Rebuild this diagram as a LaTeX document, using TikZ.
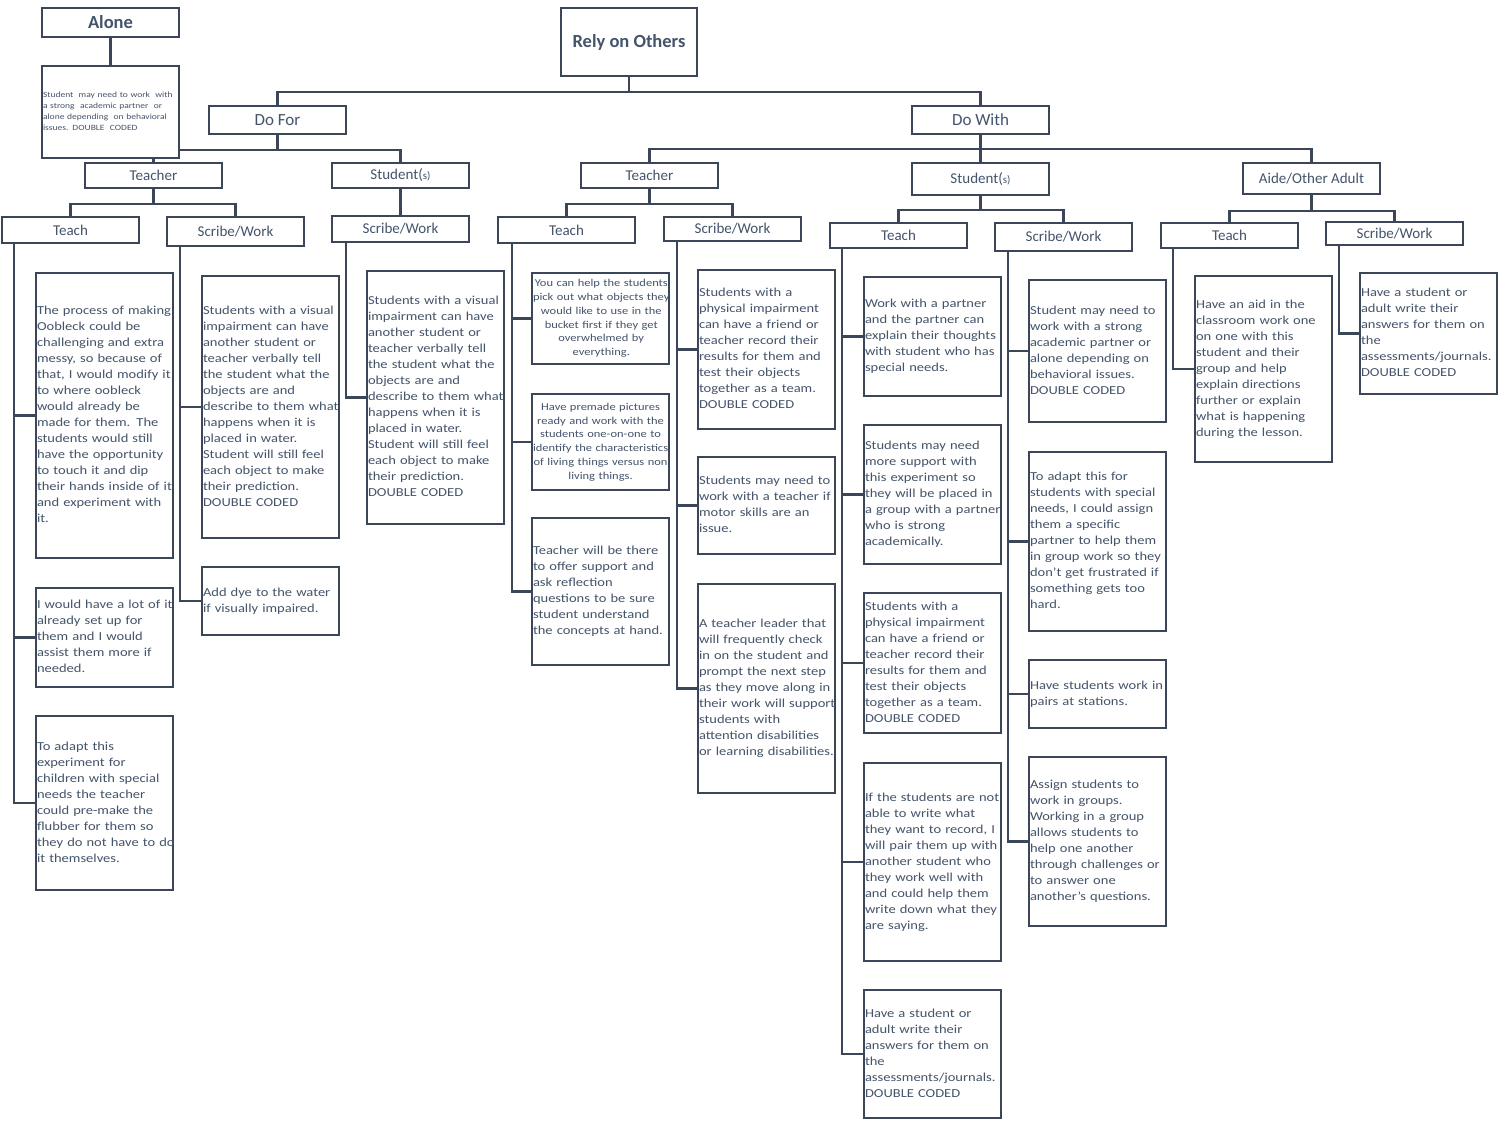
\documentclass[tikz,border=0pt]{standalone}
\usepackage{fontspec}
\setmainfont{Carlito}
\newfontfamily\bodyfont{Carlito}[FakeStretch=1.19]
\usetikzlibrary{backgrounds,calc}
\definecolor{lc}{HTML}{3B4659}
\definecolor{tc}{HTML}{44546A}
\newcommand{\mytl}[1]{\begin{tabular}{@{}l@{}}#1\end{tabular}}
\newcommand{\mytc}[1]{\begin{tabular}{@{}c@{}}#1\end{tabular}}
\newcommand{\sm}[1]{{\fontsize{11}{13}\selectfont #1}}
\tikzset{
  bx/.style={draw=lc, line width=2pt, fill=white, anchor=north west, minimum width=137pt, inner sep=0pt, text=tc},
  body/.style={bx, text width=135pt, align=left, font=\bodyfont\fontsize{12.2}{16}\selectfont},
  smallbody/.style={bx, text width=135pt, align=center, font=\bodyfont\fontsize{10.5}{13.8}\selectfont},
  lab/.style={bx, font=\fontsize{15}{18}\selectfont},
  big/.style={bx, font=\fontsize{17}{20}\selectfont},
  head/.style={bx, font=\bfseries\fontsize{18.5}{22}\selectfont},
  conn/.style={draw=lc, line width=2.5pt},
}
\begin{document}
\begin{tikzpicture}[x=1pt,y=-1pt]
\useasboundingbox (0,0) rectangle (1509,1125);
% top level
\node[head, minimum height=29pt] (alone) at (41,7) {Alone};
\node[bx, minimum height=92pt, text width=135pt, align=left, font=\bodyfont\fontsize{8}{11}\selectfont] (alonebox) at (41,65)
 {\mytl{\makebox[132pt][s]{Student \ may need to work \ with}\\ \makebox[123pt][s]{a strong \ academic partner \ or}\\ \makebox[132pt][s]{alone depending \ on behavioral}\\ issues. DOUBLE \ CODED}};
\node[head, minimum width=136pt, minimum height=68pt] (rely) at (560,7) {Rely on Others};
\node[big, minimum height=28pt] (dofor) at (208,105) {Do For};
\node[big, minimum height=28pt] (dowith) at (911,105) {Do With};
% Do For
\node[lab, minimum height=25pt] (dft) at (84,162) {Teacher};
\node[lab, minimum height=25pt] (dfs) at (331,162) {Student(\sm{s)}};
\node[lab, minimum height=26pt] (dftt) at (1,216) {Teach};
\node[lab, minimum height=29pt] (dfts) at (166,216) {Scribe/Work};
\node[lab, minimum height=26pt] (dfss) at (331,215) {Scribe/Work};
\node[body, minimum height=285pt] (a1) at (35,272) {\mytl{The process of making\\Oobleck could be\\challenging and extra\\messy, so because of\\that, I would modify it\\to where oobleck\\would already be\\made for them. The\\students would still\\have the opportunity\\to touch it and dip\\their hands inside of it\\and experiment with\\it.}};
\node[body, minimum height=99pt] (a2) at (35,587) {\mytl{I would have a lot of it\\already set up for\\them and I would\\assist them more if\\needed.}};
\node[body, minimum height=174pt] (a3) at (35,715) {\mytl{To adapt this\\experiment for\\children with special\\needs the teacher\\could pre-make the\\flubber for them so\\they do not have to do\\it themselves.}};
\node[body, minimum height=262pt] (b1) at (201,275) {\mytl{Students with a visual\\impairment can have\\another student or\\teacher verbally tell\\the student what the\\objects are and\\describe to them what\\happens when it is\\placed in water.\\Student will still feel\\each object to make\\their prediction.\\DOUBLE CODED}};
\node[body, minimum height=68pt] (b2) at (201,566) {\mytl{Add dye to the water\\if visually impaired.}};
\node[body, minimum height=253pt] (c1) at (366,270) {\mytl{Students with a visual\\impairment can have\\another student or\\teacher verbally tell\\the student what the\\objects are and\\describe to them what\\happens when it is\\placed in water.\\Student will still feel\\each object to make\\their prediction.\\DOUBLE CODED}};
% Do With
\node[lab, minimum height=25pt] (dwt) at (580,162) {Teacher};
\node[lab, minimum height=32pt] (dws) at (911,162) {Student(\sm{s)}};
\node[lab, minimum height=31pt] (dwa) at (1242,162) {Aide/Other Adult};
\node[lab, minimum height=26pt] (dwtt) at (497,216) {Teach};
\node[lab, minimum height=24pt] (dwts) at (663,216) {Scribe/Work};
\node[smallbody, minimum height=91pt] (d1) at (531,272) {\mytc{You can help the students\\pick out what objects they\\would like to use in the\\bucket first if they get\\overwhelmed by\\everything.}};
\node[smallbody, minimum height=96pt] (d2) at (531,393) {\mytc{Have premade pictures\\ready and work with the\\students one-on-one to\\identify the characteristics\\of living things versus non\\living things.}};
\node[body, minimum height=147pt] (d3) at (531,517) {\mytl{Teacher will be there\\to offer support and\\ask reflection\\questions to be sure\\student understand\\the concepts at hand.}};
\node[body, minimum height=159pt] (e1) at (697,269) {\mytl{Students with a\\physical impairment\\can have a friend or\\teacher record their\\results for them and\\test their objects\\together as a team.\\DOUBLE CODED}};
\node[body, minimum height=97pt] (e2) at (697,456) {\mytl{Students may need to\\work with a teacher if\\motor skills are an\\issue.}};
\node[body, minimum height=209pt] (e3) at (697,583) {\mytl{A teacher leader that\\will frequently check\\in on the student and\\prompt the next step\\as they move along in\\their work will support\\students with\\attention disabilities\\or learning disabilities.}};
\node[lab, minimum height=25pt] (dwst) at (829,222) {Teach};
\node[lab, minimum height=28pt] (dwss) at (994,222) {Scribe/Work};
\node[body, minimum height=119pt] (f1) at (863,276) {\mytl{Work with a partner\\and the partner can\\explain their thoughts\\with student who has\\special needs.}};
\node[body, minimum height=139pt] (f2) at (863,424) {\mytl{Students may need\\more support with\\this experiment so\\they will be placed in\\a group with a partner\\who is strong\\academically.}};
\node[body, minimum height=140pt] (f3) at (863,592) {\mytl{Students with a\\physical impairment\\can have a friend or\\teacher record their\\results for them and\\test their objects\\together as a team.\\DOUBLE CODED}};
\node[body, minimum height=198pt] (f4) at (863,762) {\mytl{If the students are not\\able to write what\\they want to record, I\\will pair them up with\\another student who\\they work well with\\and could help them\\write down what they\\are saying.}};
\node[body, minimum height=128pt] (f5) at (863,989) {\mytl{Have a student or\\adult write their\\answers for them on\\the\\assessments/journals.\\DOUBLE CODED}};
\node[body, minimum height=142pt] (g1) at (1028,279) {\mytl{Student may need to\\work with a strong\\academic partner or\\alone depending on\\behavioral issues.\\DOUBLE CODED}};
\node[body, minimum height=179pt] (g2) at (1028,451) {\mytl{To adapt this for\\students with special\\needs, I could assign\\them a specific\\partner to help them\\in group work so they\\don’t get frustrated if\\something gets too\\hard.}};
\node[body, minimum height=68pt] (g3) at (1028,659) {\mytl{Have students work in\\pairs at stations.}};
\node[body, minimum height=169pt] (g4) at (1028,756) {\mytl{Assign students to\\work in groups.\\Working in a group\\allows students to\\help one another\\through challenges or\\to answer one\\another’s questions.}};
\node[lab, minimum height=25pt] (dwat) at (1160,222) {Teach};
\node[lab, minimum height=23pt] (dwas) at (1325,221) {Scribe/Work};
\node[body, minimum height=186pt] (h1) at (1194,275) {\mytl{Have an aid in the\\classroom work one\\on one with this\\student and their\\group and help\\explain directions\\further or explain\\what is happening\\during the lesson.}};
\node[body, minimum height=121pt] (i1) at (1359,272) {\mytl{Have a student or\\adult write their\\answers for them on\\the\\assessments/journals.\\DOUBLE CODED}};
% connectors
\begin{pgfonlayer}{background}
\fill[white] (0,0) rectangle (1509,1125);
\draw[conn] (alone.south) -- (alonebox.north);
\draw[conn] (rely.south) -- ++(0,15) -| (dofor.north);
\draw[conn] (rely.south) -- ++(0,15) -| (dowith.north);
\draw[conn] (dofor.south) -- ++(0,15) -| (dft.north);
\draw[conn] (dofor.south) -- ++(0,15) -| (dfs.north);
\draw[conn] (dft.south) -- ++(0,15) -| (dftt.north);
\draw[conn] (dft.south) -- ++(0,15) -| (dfts.north);
\draw[conn] (dfs.south) -- (dfss.north);
\draw[conn] (dowith.south) -- ++(0,14) -| (dwt.north);
\draw[conn] (dowith.south) -- ++(0,14) -| (dwa.north);
\draw[conn] (dowith.south) -- (dws.north);
\draw[conn] (dwt.south) -- ++(0,15) -| (dwtt.north);
\draw[conn] (dwt.south) -- ++(0,15) -| (dwts.north);
\draw[conn] (dws.south) -- ++(0,14) -| (dwst.north);
\draw[conn] (dws.south) -- ++(0,14) -| (dwss.north);
\draw[conn] (dwa.south) -- ++(0,16) -| (dwat.north);
\draw[conn] (dwa.south) -- ++(0,16) -| (dwas.north);
\foreach \c in {a1,a2,a3} \draw[conn] ($(dftt.south west)+(13,0)$) |- (\c.west);
\foreach \c in {b1,b2} \draw[conn] ($(dfts.south west)+(14,0)$) |- (\c.west);
\foreach \c in {c1} \draw[conn] ($(dfss.south west)+(15,0)$) |- (\c.west);
\foreach \c in {d1,d2,d3} \draw[conn] ($(dwtt.south west)+(15,0)$) |- (\c.west);
\foreach \c in {e1,e2,e3} \draw[conn] ($(dwts.south west)+(14,0)$) |- (\c.west);
\foreach \c in {f1,f2,f3,f4,f5} \draw[conn] ($(dwst.south west)+(13,0)$) |- (\c.west);
\foreach \c in {g1,g2,g3,g4} \draw[conn] ($(dwss.south west)+(14,0)$) |- (\c.west);
\foreach \c in {h1} \draw[conn] ($(dwat.south west)+(13,0)$) |- (\c.west);
\foreach \c in {i1} \draw[conn] ($(dwas.south west)+(14,0)$) |- (\c.west);
\end{pgfonlayer}
\end{tikzpicture}
\end{document}
